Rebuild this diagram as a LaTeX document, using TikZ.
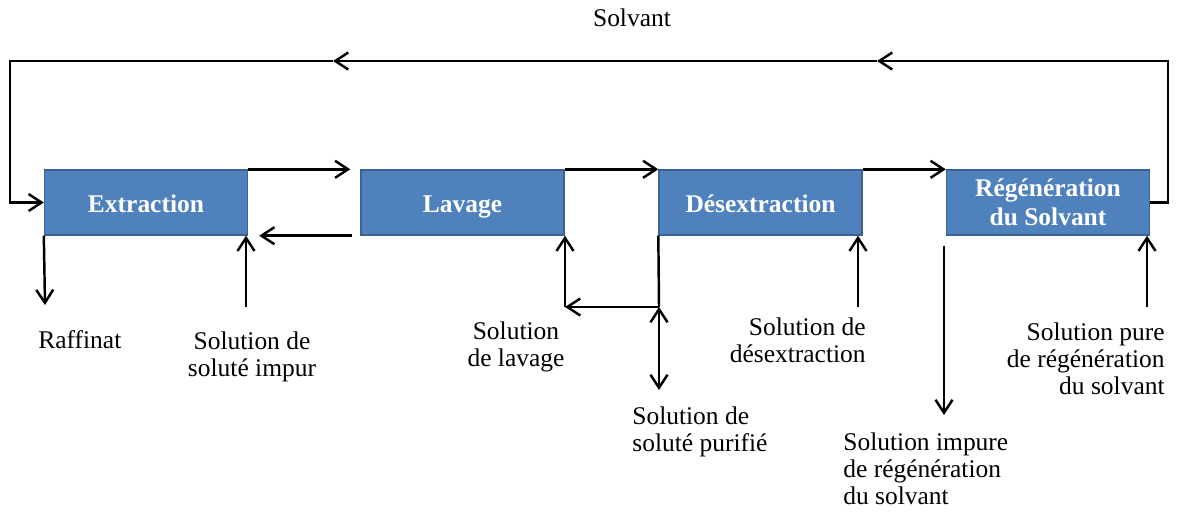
\documentclass[tikz,border=0pt]{standalone}
\usepackage{fontspec}
\setmainfont{Liberation Serif}
\usepackage{xcolor}
\usetikzlibrary{arrows.meta}
\definecolor{boxblue}{RGB}{79,129,189}
\definecolor{boxedge}{RGB}{60,98,146}

\begin{document}
\begin{tikzpicture}[
    x=0.02cm, y=-0.02cm,
    stage/.style={draw=boxedge, line width=0.8pt, fill=boxblue, text=white, minimum width=4.06cm, minimum height=1.3cm, inner sep=0pt, align=center, font=\fontsize{14.5}{16.5}\selectfont\bfseries},
    oneline/.style={text height=2.8ex, text depth=0.3ex},
    flow/.style={->, line width=1.4pt, >={Straight Barb[length=2.6mm,width=3.4mm]}},
    line/.style={line width=1.4pt},
    lbl/.style={font=\fontsize{14.5}{15.5}\selectfont, inner sep=0pt},
    ]
    \useasboundingbox (0,0) rectangle (1179,512);
    % les quatre etapes
    \node[stage, oneline] (extr) at (146,202.5) {Extraction};
    \node[stage, oneline] (lav) at (462.5,202.5) {Lavage};
    \node[stage, oneline] (des) at (760.5,202.5) {Désextraction};
    \node[stage] (regen) at (1048,202.5) {Régénération\\du Solvant};

    % textes
    \node[lbl] (solv) at (632,18) {Solvant};
    \node[lbl, anchor=west] (raff) at (38,340) {Raffinat};
    \node[lbl, align=center] (impur) at (252,357) {Solution de\\soluté impur};
    \node[lbl, align=center] (lavsol) at (516,347) {Solution\\de lavage};
    \node[lbl, align=left, anchor=west] (purif) at (632,432) {Solution de\\soluté purifié};
    \node[lbl, align=right, anchor=east] (dessol) at (866,340) {Solution de\\désextraction};
    \node[lbl, align=left, anchor=west] (regimp) at (843,469) {Solution impure\\de régénération\\du solvant};
    \node[lbl, align=right, anchor=east] (regpure) at (1165,359) {Solution pure\\de régénération\\du solvant};

    % boucle du solvant
    \coordinate (tr) at (1168,61);
    \coordinate (m1) at (877,61);
    \coordinate (m2) at (333,61);
    \coordinate (tl) at (10,61);
    \draw[flow] (regen.east) -| (tr) -- (m1);
    \draw[flow] (m1) -- (m2);
    \draw[flow] (m2) -- (tl) |- (extr.west);

    % passage d'une etape a l'autre
    \draw[flow, shorten >=0.2cm] (extr.north east) -- (lav.north west);
    \draw[flow] (lav.north east) -- (des.north west);
    \draw[flow] (des.north east) -- (regen.north west);
    \draw[flow, shorten <=0.16cm, shorten >=0.22cm] (lav.south west) -- (extr.south east);

    % entrees et sorties
    \coordinate (raffend) at (45,305);
    \coordinate (impin) at (246,307);
    \coordinate (lavcorner) at (565,307);
    \coordinate (descorner) at (659,307);
    \coordinate (purend) at (659,390);
    \coordinate (desin) at (858,307);
    \coordinate (impend) at (944,415);
    \coordinate (purein) at (1147,307);
    \draw[flow] (extr.south west) -- (raffend);
    \draw[flow] (impin) -- (impin |- extr.south);
    \draw[line] (des.south west) -- (descorner);
    \draw[flow] (descorner) -- (lavcorner);
    \draw[flow] (lavcorner) -- (lavcorner |- lav.south);
    \draw[flow, <->] (descorner) -- (purend);
    \draw[flow] (desin) -- (desin |- des.south);
    \draw[flow, shorten <=0.2cm] (impend |- regen.south) -- (impend);
    \draw[flow] (purein) -- (purein |- regen.south);
\end{tikzpicture}
\end{document}
